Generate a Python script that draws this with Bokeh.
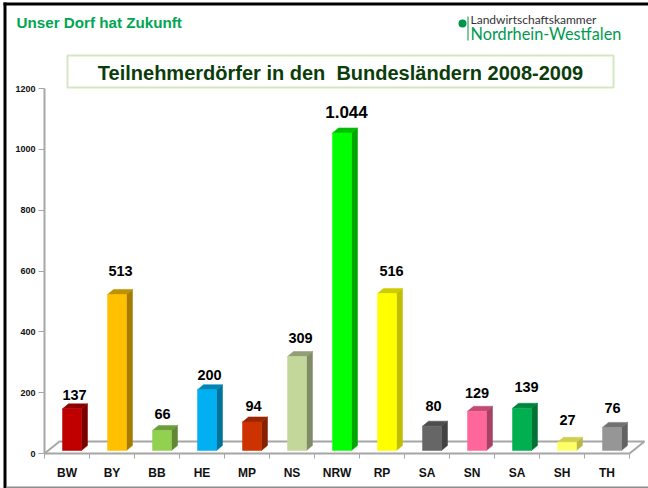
from bokeh.embed import file_html
from bokeh.resources import INLINE
from bokeh.plotting import figure
from bokeh.models import ColumnDataSource, FixedTicker, Label, BoxAnnotation, Range1d
from bokeh.core.properties import value

states = ["BW", "BY", "BB", "HE", "MP", "NS", "NRW", "RP", "SA", "SN", "SA", "SH", "TH"]
villages = [137, 513, 66, 200, 94, 309, 1044, 516, 80, 129, 139, 27, 76]
labels = ["137", "513", "66", "200", "94", "309", "1.044", "516", "80", "129", "139", "27", "76"]
y_ticks = [0, 200, 400, 600, 800, 1000, 1200]

front = ["#c00000", "#ffc000", "#92d050", "#00b0f0", "#cc3300", "#c4d79b", "#00ff00",
         "#ffff00", "#666666", "#ff6699", "#00b050", "#ffff66", "#969696"]
side = ["#7a0000", "#a67c00", "#5f8734", "#00729c", "#852100", "#808c65", "#00a600",
        "#bfbf00", "#424242", "#a64263", "#007234", "#b8b84a", "#626262"]
top = ["#8f0000", "#bf9000", "#6e9c3c", "#0085b5", "#992600", "#939e74", "#00bf00",
       "#cccc00", "#4d4d4d", "#bf4d73", "#00843c", "#cfcf50", "#717171"]

# label placement tweaks in pixels (separate from the data)
label_dx = [2.5, 3.5, 0.5, 2.5, 1.5, 3.5, 4.5, 4.5, 1.5, 0, 4.5, 0.5, 0.5]
label_dy = [14, 23, 16, 15, 16, 19, 21, 23, 20, 18, 21, 22, 19]
label_size = ["14.5px"] * 13
label_size[6] = "17px"

W, H = 648, 488
LEFT, TOP, BOTTOM = 44, 88, 453
CAT = 45.0
px_x = 1 / CAT
px_y = 1200 / (BOTTOM - TOP)


def X(px):
    return (px - LEFT) * px_x - 0.5


def Y(py):
    return (BOTTOM - py) * px_y


p = figure(width=W, height=H, output_backend="svg", toolbar_location=None,
           x_range=Range1d(X(0), X(W)), y_range=Range1d(Y(H), Y(0)),
           min_border=0, outline_line_color=None, background_fill_color="white",
           border_fill_color="white")
p.grid.visible = False

# 3-D floor
fx0, fx1 = -0.5, 12.5
fdx, fdy = 15 * px_x, 12 * px_y
floor_xs = [fx0, fx0 + fdx, fx1 + fdx, fx1]
floor_ys = [0, fdy, fdy, 0]
p.line(floor_xs, floor_ys, line_color="#a6a6a6", line_width=2)

# 3-D bars
n = len(villages)
xc = [i + 5 * px_x for i in range(n)]
hw = 9.5 * px_x
base = 3 * px_y
dx, dy = 6 * px_x, 5 * px_y
f_x, f_y, s_x, s_y, t_x, t_y = [], [], [], [], [], []
for x, v in zip(xc, villages):
    l, r, b, h = x - hw, x + hw, base, base + v
    f_x.append([l, r, r, l]); f_y.append([b, b, h, h])
    s_x.append([r, r + dx, r + dx, r]); s_y.append([b, b + dy, h + dy, h])
    t_x.append([l, r, r + dx, l + dx]); t_y.append([h, h, h + dy, h + dy])
p.patches(s_x, s_y, fill_color=side, line_color=side, line_width=0.5)
p.patches(t_x, t_y, fill_color=top, line_color=top, line_width=0.5)
p.patches(f_x, f_y, fill_color=front, line_color=front, line_width=0.5)

# value labels
src = ColumnDataSource(dict(x=xc, y=[base + v for v in villages], t=labels, fs=label_size,
                            xo=label_dx, yo=[-d for d in label_dy]))
p.text("x", "y", text="t", source=src, x_offset="xo", y_offset="yo", text_align="center",
       text_baseline="middle", text_font=value("Liberation Sans"), text_font_style="bold",
       text_font_size="fs", text_color="#000000")

# axes
xa = p.xaxis[0]
xa.fixed_location = 0
xa.ticker = FixedTicker(ticks=list(range(n)), minor_ticks=[i - 0.5 for i in range(n + 1)])
xa.major_label_overrides = {i: s for i, s in enumerate(states)}
xa.bounds = (-0.5, 12.5)
xa.major_tick_in = xa.major_tick_out = 0
xa.minor_tick_in = 0
xa.minor_tick_out = 5
xa.axis_line_color = xa.minor_tick_line_color = "#a6a6a6"
xa.axis_line_width = 2
xa.minor_tick_line_width = 1
xa.major_label_standoff = 7
xa.major_label_text_font = "Liberation Sans"
xa.major_label_text_font_style = "bold"
xa.major_label_text_font_size = "12px"
xa.major_label_text_color = "#111111"

ya = p.yaxis[0]
ya.fixed_location = -0.5
ya.bounds = (0, 1200)
ya.ticker = FixedTicker(ticks=y_ticks)
ya.minor_tick_line_color = None
ya.major_tick_in = 0
ya.major_tick_out = 6
ya.axis_line_color = ya.major_tick_line_color = "#a6a6a6"
ya.axis_line_width = 2
ya.major_label_standoff = 3
ya.major_label_text_font = "Liberation Sans"
ya.major_label_text_font_style = "bold"
ya.major_label_text_font_size = "9px"
ya.major_label_text_color = "#111111"


def box(l, r, t, b, **kw):
    p.add_layout(BoxAnnotation(left=X(l), right=X(r), top=Y(t), bottom=Y(b), **kw))


def txt(x, y, s, size, color, style="normal", font="Liberation Sans", align="left"):
    p.add_layout(Label(x=X(x), y=Y(y), text=s, text_font=font, text_font_size=size,
                       text_color=color, text_font_style=style, text_align=align,
                       text_baseline="middle"))


# page frame
box(3, 6, 2, H, fill_color="#000000", fill_alpha=1, line_color=None)
box(3, W, 2, 5, fill_color="#000000", fill_alpha=1, line_color=None)
box(6, W, 486, 488, fill_color="#8c8c8c", fill_alpha=1, line_color=None)

# title box
box(67, 613, 55, 87, fill_color="white", fill_alpha=1, line_color="#d3e8c2", line_alpha=1, line_width=2)
txt(340, 72, "Teilnehmerdörfer in den\u00a0 Bundesländern 2008-2009", "20px", "#0b3d0b", "bold", align="center")
txt(16, 22, "Unser Dorf hat Zukunft", "15.2px", "#00a651", "bold")

# logo
box(458, 466, 19, 27, fill_color="#00944a", fill_alpha=1, line_color=None, border_radius=4)
box(467, 468, 16, 40, fill_color="#00944a", fill_alpha=1, line_color=None)
txt(470, 19, "Landwirtschaftskammer", "12px", "#333333", font="Lato")
txt(470, 33, "Nordrhein-Westfalen", "16.3px", "#009a50", font="Lato")

open("out.html", "w").write(file_html(p, INLINE))
